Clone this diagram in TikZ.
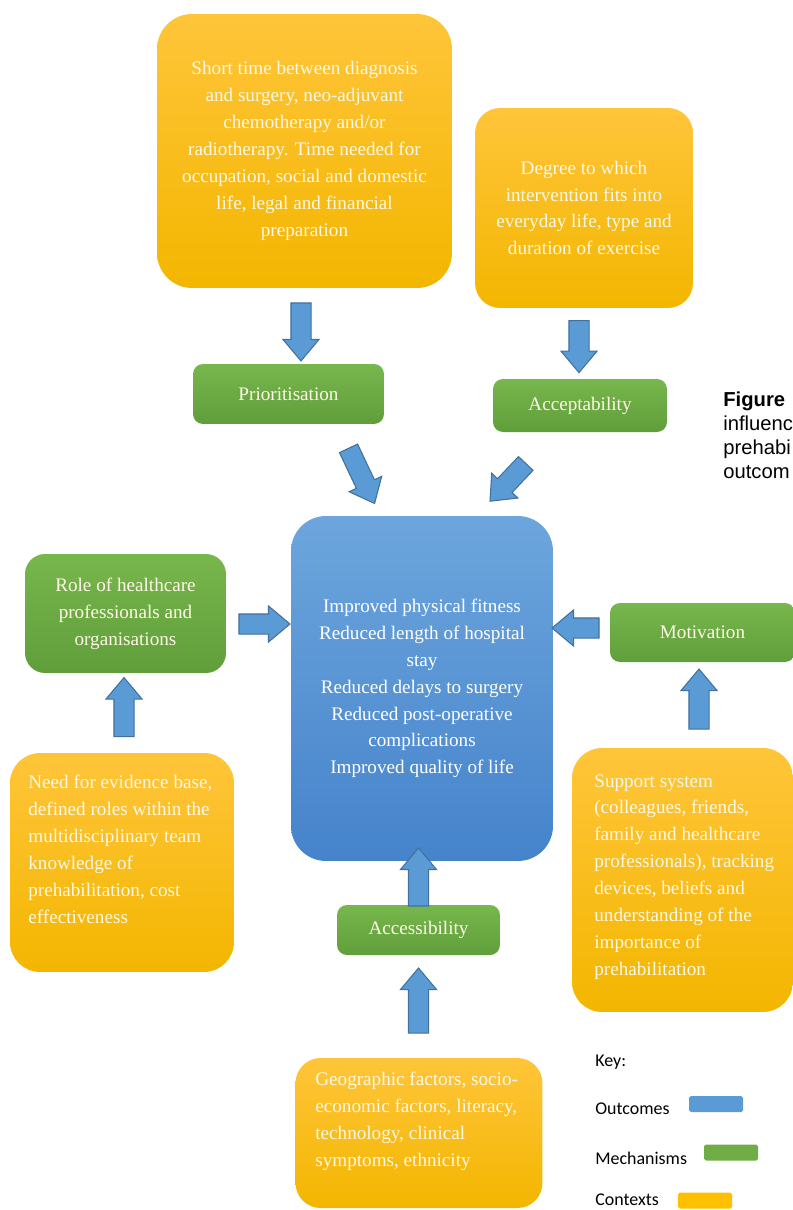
\documentclass[tikz,border=0pt]{standalone}
\usepackage{fontspec}
\setmainfont{Liberation Serif}
\newfontfamily\keyfont{Carlito}
\newfontfamily\capfont{Liberation Sans}
\usepackage{tikz}
\usetikzlibrary{shapes.arrows,calc}
\usepackage{xcolor}

\definecolor{ctxtop}{HTML}{FFC53A}
\definecolor{ctxbot}{HTML}{F3B600}
\definecolor{mechtop}{HTML}{78B74D}
\definecolor{mechbot}{HTML}{5F9E3A}
\definecolor{outtop}{HTML}{6DA6DD}
\definecolor{outbot}{HTML}{4583CB}
\definecolor{arrowfill}{HTML}{5B9BD5}
\definecolor{arrowline}{HTML}{41719C}
\definecolor{keyblue}{HTML}{5B9BD5}
\definecolor{keygreen}{HTML}{70AD47}
\definecolor{keygold}{HTML}{FFC000}
\definecolor{lighttxt}{HTML}{FFF8E6}

\newcommand{\bodyfont}{\fontsize{10.9}{15.3}\selectfont}

\tikzset{
  ctxbox/.style={top color=ctxtop,bottom color=ctxbot,rounded corners=0.6cm,
    text=lighttxt,font=\bodyfont,inner sep=0.22cm},
  ctxtext/.style={anchor=north west,inner sep=0pt,align=left,text=lighttxt,font=\bodyfont},
  mechbox/.style={top color=mechtop,bottom color=mechbot,rounded corners=0.2cm,
    text=lighttxt,font=\bodyfont,align=center},
  outbox/.style={top color=outtop,bottom color=outbot,rounded corners=0.7cm,
    text=white,font=\bodyfont,align=center},
  blk/.style={single arrow,draw=arrowline,fill=arrowfill,line width=0.6pt,
    minimum width=0.7cm,single arrow head extend=0.16cm,single arrow tip angle=80,
    inner xsep=0pt,inner ysep=0.19cm,sloped,allow upside down,midway},
  keybox/.style={minimum width=1.08cm,minimum height=0.32cm,inner sep=0pt,rounded corners=1pt},
}

\begin{document}
\begin{tikzpicture}[x=0.02cm,y=-0.02cm]
\useasboundingbox (0,0) rectangle (793,1210);

% contexts
\node[ctxbox,align=center,minimum width=5.9cm,minimum height=5.48cm,rounded corners=0.7cm] (ctxtime) at (304.5,151)
  {Short time between diagnosis\\and surgery, neo-adjuvant\\chemotherapy and/or\\radiotherapy. Time needed for\\occupation, social and domestic\\life, legal and financial\\preparation};
\node[ctxbox,align=center,minimum width=4.36cm,minimum height=4cm,rounded corners=0.5cm] (ctxfit) at (584,208)
  {Degree to which\\intervention fits into\\everyday life, type and\\duration of exercise};
\node[ctxbox,minimum width=4.48cm,minimum height=4.38cm] (ctxevid) at (122,862.5) {};
\node[ctxtext] (evidtext) at (28,775)
  {Need for evidence base,\\defined roles within the\\multidisciplinary team\\knowledge of\\prehabilitation, cost\\effectiveness};
\node[ctxbox,minimum width=4.42cm,minimum height=5.28cm] (ctxsupp) at (682.5,880) {};
\node[ctxtext] (supptext) at (594,774)
  {Support system\\(colleagues, friends,\\family and healthcare\\professionals), tracking\\devices, beliefs and\\understanding of the\\importance of\\prehabilitation};
\node[ctxbox,minimum width=4.94cm,minimum height=3cm,rounded corners=0.5cm] (ctxgeo) at (419,1133) {};
\node[ctxtext] (geotext) at (315,1072)
  {Geographic factors, socio-\\economic factors, literacy,\\technology, clinical\\symptoms, ethnicity};

% mechanisms
\node[mechbox,minimum width=3.82cm,minimum height=1.2cm] (prio) at (288.5,394) {Prioritisation};
\node[mechbox,minimum width=3.48cm,minimum height=1.06cm] (accept) at (580,405.5) {Acceptability};
\node[mechbox,minimum width=4.02cm,minimum height=2.38cm,rounded corners=0.4cm] (role) at (125.5,613.5)
  {Role of healthcare\\professionals and\\organisations};
\node[mechbox,minimum width=3.7cm,minimum height=1.18cm] (motiv) at (702.5,632.5) {Motivation};
\node[mechbox,minimum width=3.26cm,minimum height=1cm] (access) at (418.5,930) {Accessibility};

% outcomes
\node[outbox,minimum width=5.24cm,minimum height=6.9cm] (outc) at (422,688.5)
  {Improved physical fitness\\Reduced length of hospital\\stay\\Reduced delays to surgery\\Reduced post-operative\\complications\\Improved quality of life};

% block arrows
\path (ctxtime.south -| 301,0) -- (prio.north -| 301,0) node[blk,minimum height=1.16cm] (a1) {};
\path (ctxfit.south -| 579,0) -- (579,373) node[blk,minimum height=1.04cm] (a2) {};
\coordinate (p3) at (346,443);
\coordinate (q3) at (372,498);
\path (p3) -- (q3) node[blk,minimum height=1.22cm] (a3) {};
\coordinate (p4) at (530,459);
\coordinate (q4) at (494,497);
\path (p4) -- (q4) node[blk,minimum height=1.04cm] (a4) {};
\path (role.east |- 0,624) -- (outc.west |- 0,624) node[blk,minimum height=1.02cm] (a5) {};
\path (ctxevid.north -| 124,0) -- (role.south -| 124,0) node[blk,minimum height=1.18cm] (a6) {};
\path (motiv.west |- 0,628) -- (outc.east |- 0,628) node[blk,minimum height=0.94cm] (a7) {};
\path (ctxsupp.north -| 699,0) -- (motiv.south -| 699,0) node[blk,minimum height=1.2cm] (a8) {};
\path (access.north) -- (outc.south -| access.north) node[blk,minimum height=1.16cm] (a9) {};
\path (ctxgeo.north -| access.north) -- (access.south) node[blk,minimum height=1.3cm] (a10) {};

% key
\begin{scope}[font=\keyfont\fontsize{10.2}{12}\selectfont]
\node[anchor=west,inner sep=0pt] (keyhead) at (595,1062) {Key:};
\node[anchor=west,inner sep=0pt] (keyout) at (595,1109) {Outcomes};
\node[anchor=west,inner sep=0pt] (keymech) at (595,1158) {Mechanisms};
\node[anchor=west,inner sep=0pt] (keyctx) at (595,1200) {Contexts};
\end{scope}
\node[keybox,fill=keyblue] (swout) at (716,1104) {};
\node[keybox,fill=keygreen] (swmech) at (731,1152.5) {};
\node[keybox,fill=keygold] (swctx) at (705,1200.5) {};

% caption fragment
\node[anchor=north west,inner sep=0pt,align=left,font=\capfont\fontsize{11.5}{13.6}\selectfont] (figcap) at (723,392)
  {\textbf{Figure}\\influenc\\prehabi\\outcom};
\end{tikzpicture}
\end{document}
